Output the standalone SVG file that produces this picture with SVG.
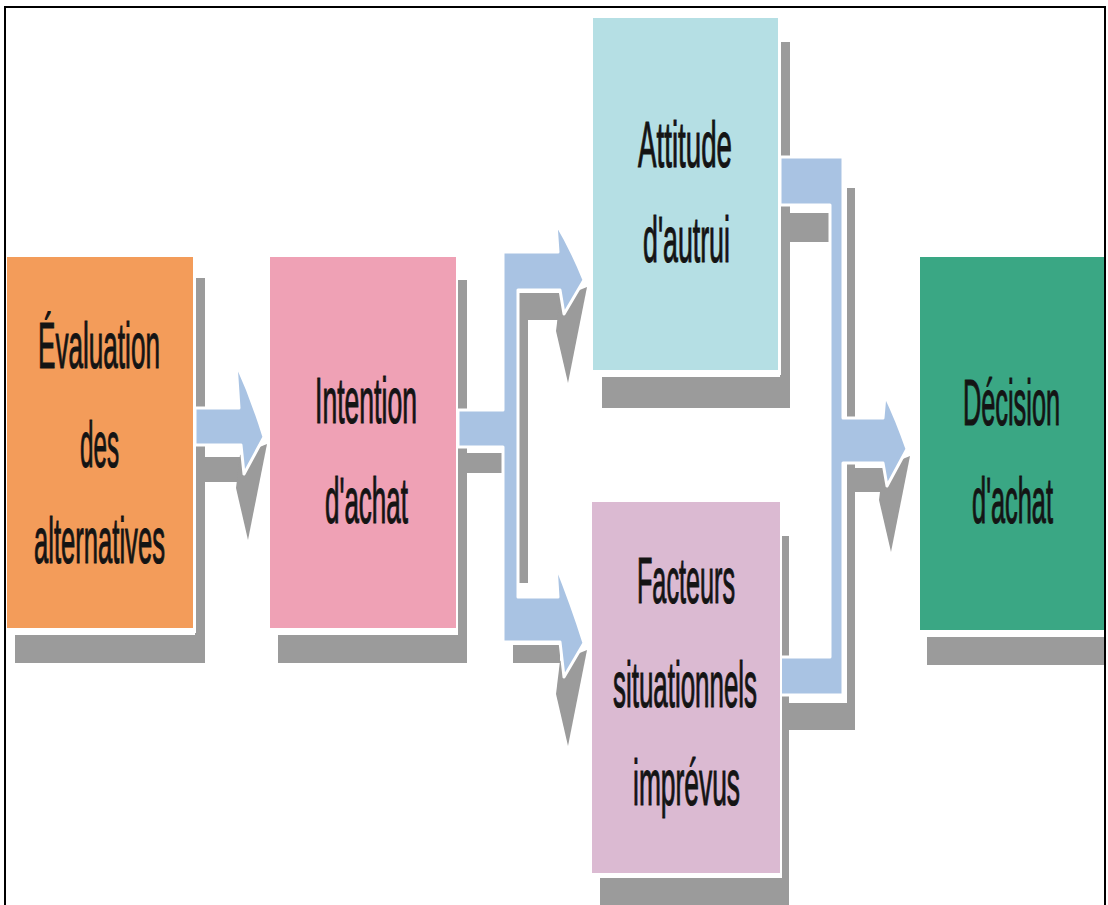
<svg xmlns="http://www.w3.org/2000/svg" width="1108" height="905" viewBox="0 0 1108 905">
<style>
.sh{fill:#9b9b9b}
.bl{fill:#a9c3e3;stroke:#ffffff;stroke-width:3;stroke-linejoin:round}
.halo{fill:#ffffff}
.t{font-family:"Liberation Sans",Arial,sans-serif;font-size:64px;fill:#141414;stroke:#141414;stroke-width:1.2px;text-anchor:middle}
</style>
<rect x="0" y="0" width="1108" height="905" fill="#ffffff"/>
<g id="shadows">
<path class="sh" d="M195,278 H205 V663 H15 V635 H195 Z"/>
<path class="sh" d="M458,280 H467 V663 H278 V635 H458 Z"/>
<path class="sh" d="M780,42 H790 V408 H602 V377 H780 Z"/>
<path class="sh" d="M781,536 H789 V905 H600 V878 H781 Z"/>
<path class="sh" d="M927,637 H1104 V665 H927 Z"/>
</g>
<g id="connectors">
<rect class="sh" x="197" y="457" width="43" height="25"/>
<polygon class="sh" points="240,455 267,444 248,540 236,488"/>
<rect class="sh" x="458" y="453" width="47" height="20"/>
<path class="sh" d="M518,293 H560 V320 H528 V583 H518 Z"/>
<rect class="sh" x="513" y="645" width="47" height="18"/>
<polygon class="sh" points="560,298 587,287 568,383 556,331"/>
<polygon class="sh" points="560,661 587,650 568,746 556,694"/>
<rect class="sh" x="788" y="213" width="42" height="29"/>
<rect class="sh" x="847" y="188" width="8" height="542"/>
<rect class="sh" x="847" y="468" width="36" height="24"/>
<rect class="sh" x="780" y="703" width="75" height="27"/>
<polygon class="sh" points="883,467 910,456 891,552 879,500"/>
<path id="arrow-eval-intention" class="bl" d="M195,408 H239 L236,363 Q252,398 264,437 L244,474 L241,445 H195 Z"/>
<path id="arrow-intention-split" class="bl" d="M458,410 H503 V252 H558 L556,223 Q572,250 584,280 L564,314 L560,290 H518 V597 H558 L556,565 Q572,605 584,643 L564,677 L560,642 H503 V447 H458 Z"/>
<path id="arrow-merge-decision" class="bl" d="M780,157 H843 V418 H883 L885,395 Q897,420 907,449 L887,486 L883,463 H843 V695 H780 V657 H830 V205 H780 Z"/>
</g>
<g id="node-evaluation">
<rect class="halo" x="6" y="255" width="190" height="378"/>
<rect x="7" y="257" width="186" height="371" fill="#f39c5a"/>
<text class="t" transform="translate(99,368) scale(0.408,1)">Évaluation</text>
<text class="t" transform="translate(99.5,467) scale(0.378,1)">des</text>
<text class="t" transform="translate(99.5,563) scale(0.400,1)">alternatives</text>
</g>
<g id="node-intention">
<rect class="halo" x="268" y="255" width="190" height="378"/>
<rect x="270" y="257" width="186" height="371" fill="#efa1b5"/>
<text class="t" transform="translate(366,423) scale(0.415,1)">Intention</text>
<text class="t" transform="translate(366.5,523) scale(0.406,1)">d'achat</text>
</g>
<g id="node-attitude">
<rect class="halo" x="591" y="16" width="190" height="359"/>
<rect x="593" y="18" width="185" height="352" fill="#b5dfe4"/>
<text class="t" transform="translate(685,167) scale(0.433,1)">Attitude</text>
<text class="t" transform="translate(686.5,262) scale(0.418,1)">d'autrui</text>
</g>
<g id="node-facteurs">
<rect class="halo" x="590" y="500" width="192" height="378"/>
<rect x="592" y="502" width="188" height="371" fill="#dbbad2"/>
<text class="t" transform="translate(686,603) scale(0.394,1)">Facteurs</text>
<text class="t" transform="translate(685,707) scale(0.405,1)">situationnels</text>
<text class="t" transform="translate(686.5,805) scale(0.412,1)">imprévus</text>
</g>
<g id="node-decision">
<rect class="halo" x="918" y="255" width="188" height="380"/>
<rect x="920" y="257" width="184" height="373" fill="#3aa784"/>
<text class="t" transform="translate(1011.5,425) scale(0.396,1)">Décision</text>
<text class="t" transform="translate(1012.5,523) scale(0.396,1)">d'achat</text>
</g>
<rect id="frame" x="5" y="7" width="1100" height="910" fill="none" stroke="#000000" stroke-width="2"/>
</svg>
